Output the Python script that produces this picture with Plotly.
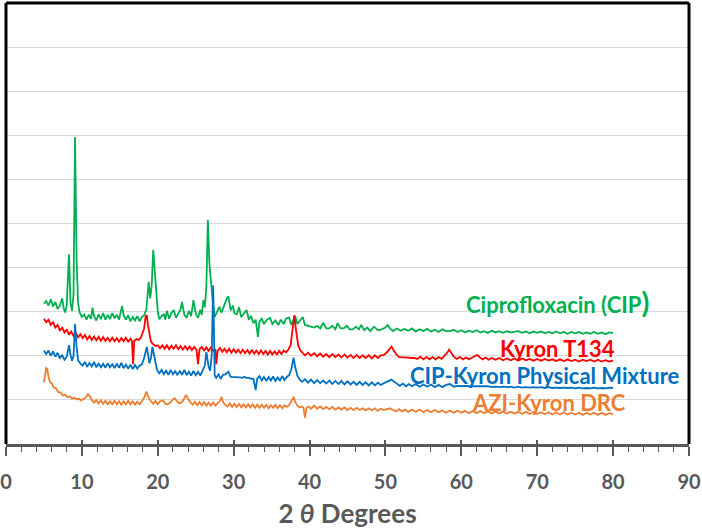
import plotly.graph_objects as go

# ---------------- data (2-theta in degrees, intensity in grid units, offset patterns) ----------------
cip_x = [5.0, 5.3, 5.6, 5.9, 6.2, 6.5, 6.8, 7.1, 7.4, 7.6, 7.8, 8.0, 8.3, 8.5, 8.7, 8.9, 9.1, 9.3, 9.5, 9.7,
         10.0, 10.3, 10.6, 10.9, 11.2, 11.4, 11.6, 11.9, 12.2, 12.5, 12.8, 13.1, 13.4, 13.7, 14.0, 14.3, 14.6, 14.9,
         15.1, 15.3, 15.5, 15.8, 16.1, 16.4, 16.7, 17.0, 17.3, 17.6, 17.9, 18.2, 18.5, 18.8, 19.0, 19.2, 19.4, 19.6,
         19.8, 20.0, 20.2, 20.5, 20.8, 21.0, 21.2, 21.5, 21.8, 22.1, 22.4, 22.7, 23.0, 23.2, 23.5, 23.8, 24.1, 24.4,
         24.7, 25.0, 25.3, 25.6, 25.8, 26.0, 26.2, 26.4, 26.6, 26.8, 27.0, 27.2, 27.5, 27.8, 28.1, 28.4, 28.6, 28.9,
         29.1, 29.3, 29.6, 29.9, 30.1, 30.4, 30.7, 31.0, 31.4, 31.7, 32.0, 32.3, 32.6, 32.9, 33.2, 33.4, 33.7, 34.0,
         34.4, 34.8, 35.1, 35.5, 35.9, 36.2, 36.6, 36.9, 37.3, 37.6, 37.9, 38.1, 38.4, 38.7, 39.1, 39.4, 39.8, 40.2,
         40.6, 41.0, 41.4, 41.8, 42.2, 42.6, 43.0, 43.4, 43.7, 44.1, 44.5, 44.9, 45.3, 45.7, 46.1, 46.5, 46.8, 47.2,
         47.6, 48.0, 48.5, 49.0, 49.5, 50.0, 50.3, 50.6, 51.0, 51.5, 52.0, 52.5, 53.0, 53.5, 54.0, 54.5, 55.0, 55.5,
         56.0, 56.5, 57.0, 57.5, 58.0, 58.5, 59.0, 59.5, 60.0, 60.5, 61.0, 61.5, 62.0, 62.5, 63.0, 63.5, 64.0, 64.5,
         65.0, 65.5, 66.0, 66.5, 67.0, 67.5, 68.0, 68.5, 69.0, 69.5, 70.0, 70.5, 71.0, 71.5, 72.0, 72.5, 73.0, 73.5,
         74.0, 74.5, 75.0, 75.5, 76.0, 76.5, 77.0, 77.5, 78.0, 78.5, 79.0, 79.5, 80.0]
cip_y = [3.18, 3.24, 3.14, 3.28, 3.12, 3.22, 3.06, 3.14, 3.30, 3.08, 2.98, 3.15, 4.30, 3.20, 3.02, 3.40, 6.96, 4.20, 3.20, 2.98,
         2.88, 2.94, 2.82, 2.93, 2.84, 3.09, 2.90, 2.80, 2.94, 2.83, 2.97, 2.82, 2.93, 2.83, 2.97, 2.85, 2.93, 2.82,
         2.98, 3.13, 2.92, 2.82, 2.92, 2.78, 2.88, 2.80, 2.90, 2.78, 2.88, 2.92, 3.05, 3.68, 3.30, 3.60, 4.40, 3.90,
         3.49, 3.00, 2.83, 2.90, 2.94, 2.82, 3.02, 2.84, 2.97, 3.04, 2.86, 2.94, 3.05, 3.22, 2.93, 2.86, 3.02, 2.90,
         3.26, 2.96, 2.86, 3.04, 2.93, 3.26, 3.10, 3.55, 5.08, 4.10, 3.64, 3.30, 2.88, 2.98, 3.11, 2.98, 3.08, 3.18,
         3.30, 3.35, 3.03, 3.14, 2.96, 2.94, 3.10, 2.88, 2.98, 3.04, 2.82, 2.90, 2.74, 2.82, 2.43, 2.78, 2.84, 2.72,
         2.82, 2.86, 2.72, 2.80, 2.70, 2.82, 2.72, 2.84, 2.87, 2.70, 2.82, 2.90, 2.72, 2.80, 2.88, 2.70, 2.68, 2.66,
         2.64, 2.68, 2.62, 2.75, 2.62, 2.62, 2.68, 2.60, 2.74, 2.62, 2.62, 2.68, 2.60, 2.60, 2.66, 2.60, 2.70, 2.58,
         2.64, 2.56, 2.66, 2.58, 2.60, 2.64, 2.70, 2.62, 2.56, 2.62, 2.57, 2.61, 2.57, 2.62, 2.55, 2.60, 2.56, 2.61,
         2.55, 2.59, 2.54, 2.60, 2.56, 2.56, 2.59, 2.54, 2.58, 2.53, 2.57, 2.54, 2.58, 2.53, 2.56, 2.52, 2.57, 2.53,
         2.56, 2.52, 2.56, 2.53, 2.54, 2.56, 2.52, 2.55, 2.51, 2.55, 2.52, 2.55, 2.51, 2.54, 2.51, 2.55, 2.51, 2.54,
         2.50, 2.54, 2.51, 2.54, 2.50, 2.53, 2.50, 2.54, 2.50, 2.53, 2.49, 2.53, 2.52]

kyron_x = [5.0, 5.3, 5.6, 5.9, 6.2, 6.5, 6.8, 7.1, 7.4, 7.7, 8.0, 8.3, 8.6, 8.9, 9.2, 9.5, 9.8, 10.1, 10.4, 10.7,
           11.0, 11.3, 11.6, 11.9, 12.2, 12.5, 12.8, 13.1, 13.4, 13.7, 14.0, 14.3, 14.6, 14.9, 15.2, 15.5, 15.8, 16.1,
           16.4, 16.6, 16.75, 16.9, 17.2, 17.5, 17.8, 18.0, 18.2, 18.4, 18.55, 18.7, 18.9, 19.1, 19.4, 19.7, 20.0,
           20.3, 20.6, 20.9, 21.2, 21.5, 21.8, 22.1, 22.4, 22.7, 23.0, 23.3, 23.6, 23.9, 24.2, 24.5, 24.8, 25.1, 25.3,
           25.5, 25.8, 26.1, 26.4, 26.7, 27.0, 27.3, 27.6, 27.7, 27.9, 28.2, 28.5, 28.8, 29.1, 29.4, 29.7, 30.0, 30.3,
           30.6, 30.9, 31.2, 31.5, 31.8, 32.1, 32.4, 32.7, 33.0, 33.3, 33.6, 33.9, 34.2, 34.5, 34.8, 35.1, 35.4, 35.7,
           36.0, 36.3, 36.6, 36.9, 37.2, 37.5, 37.75, 38.0, 38.2, 38.5, 38.8, 39.1, 39.4, 39.8, 40.2, 40.6, 41.0, 41.4,
           41.8, 42.2, 42.6, 43.0, 43.4, 43.8, 44.2, 44.6, 45.0, 45.4, 45.8, 46.2, 46.6, 47.0, 47.4, 47.8, 48.2, 48.6,
           49.0, 49.4, 49.8, 50.2, 50.5, 50.8, 51.1, 51.4, 51.8, 52.2, 52.6, 53.0, 53.4, 53.8, 54.2, 54.6, 55.0, 55.4,
           55.8, 56.2, 56.6, 57.0, 57.4, 57.8, 58.1, 58.4, 58.7, 59.0, 59.4, 59.8, 60.2, 60.6, 61.0, 61.4, 61.8, 62.1,
           62.4, 62.8, 63.2, 63.6, 64.0, 64.5, 65.0, 65.5, 66.0, 66.5, 67.0, 67.5, 68.0, 68.5, 69.0, 69.5, 70.0, 70.5,
           71.0, 71.5, 72.0, 72.5, 73.0, 73.5, 74.0, 74.5, 75.0, 75.5, 76.0, 76.5, 77.0, 77.5, 78.0, 78.5, 79.0, 79.5,
           80.0]
kyron_y = [2.84, 2.76, 2.82, 2.70, 2.76, 2.64, 2.70, 2.58, 2.64, 2.53, 2.60, 2.48, 2.55, 2.45, 2.52, 2.42, 2.49, 2.40, 2.47, 2.37,
           2.45, 2.36, 2.44, 2.35, 2.43, 2.34, 2.42, 2.34, 2.41, 2.33, 2.41, 2.33, 2.40, 2.32, 2.40, 2.33, 2.41, 2.32,
           2.39, 2.33, 1.81, 2.34, 2.38, 2.36, 2.42, 2.50, 2.62, 2.90, 2.92, 2.70, 2.47, 2.32, 2.26, 2.22, 2.24,
           2.17, 2.24, 2.16, 2.24, 2.15, 2.23, 2.16, 2.24, 2.15, 2.22, 2.14, 2.22, 2.14, 2.21, 2.13, 2.20, 2.14, 1.81,
           2.15, 2.20, 2.12, 2.19, 2.11, 2.19, 2.11, 2.15, 1.81, 2.12, 2.18, 2.09, 2.16, 2.08, 2.16, 2.07, 2.15, 2.07,
           2.14, 2.06, 2.14, 2.06, 2.13, 2.05, 2.13, 2.05, 2.12, 2.04, 2.12, 2.04, 2.11, 2.03, 2.11, 2.03, 2.10, 2.03,
           2.11, 2.04, 2.12, 2.08, 2.14, 2.24, 2.60, 2.92, 2.60, 2.24, 2.12, 2.06, 2.01, 2.07, 2.00, 2.06, 1.99, 2.05,
           1.98, 2.04, 1.97, 2.04, 1.97, 2.03, 1.96, 2.03, 1.96, 2.02, 1.95, 2.02, 1.95, 2.01, 1.95, 2.01, 1.94, 2.01,
           1.95, 2.01, 2.02, 2.08, 2.15, 2.21, 2.12, 2.04, 1.97, 1.97, 1.96, 1.96, 1.95, 1.95, 1.93, 1.98, 1.92, 1.97,
           1.92, 1.97, 1.92, 1.97, 1.93, 2.00, 2.06, 2.14, 2.06, 1.98, 1.93, 1.97, 1.92, 1.96, 1.92, 1.96, 1.99, 2.02,
           1.97, 1.92, 1.96, 1.91, 1.95, 1.91, 1.95, 1.90, 1.94, 1.90, 1.94, 1.89, 1.94, 1.90, 1.93, 1.89, 1.93, 1.89,
           1.93, 1.89, 1.92, 1.88, 1.92, 1.88, 1.92, 1.88, 1.91, 1.87, 1.91, 1.88, 1.91, 1.87, 1.91, 1.87, 1.90, 1.87,
           1.89]

mix_x = [5.0, 5.3, 5.6, 5.9, 6.2, 6.5, 6.8, 7.1, 7.4, 7.7, 8.0, 8.3, 8.5, 8.7, 8.9, 9.1, 9.3, 9.5, 9.8, 10.1,
         10.4, 10.7, 11.0, 11.3, 11.6, 11.9, 12.2, 12.5, 12.8, 13.1, 13.4, 13.7, 14.0, 14.3, 14.6, 14.9, 15.2, 15.5,
         15.8, 16.1, 16.4, 16.7, 17.0, 17.3, 17.6, 17.9, 18.2, 18.55, 18.9, 19.1, 19.3, 19.6, 19.9, 20.2, 20.5, 20.8,
         21.1, 21.4, 21.7, 22.0, 22.3, 22.6, 22.9, 23.2, 23.5, 23.8, 24.1, 24.4, 24.7, 25.0, 25.3, 25.6, 25.9, 26.2,
         26.4, 26.7, 26.9, 27.1, 27.3, 27.5, 27.7, 28.0, 28.3, 28.6, 28.9, 29.3, 29.6, 29.9, 30.2, 30.5, 30.8, 31.1,
         31.4, 31.7, 32.0, 32.3, 32.6, 32.9, 33.1, 33.4, 33.7, 34.0, 34.3, 34.6, 34.9, 35.2, 35.5, 35.8, 36.1, 36.4,
         36.7, 37.0, 37.3, 37.6, 37.9, 38.1, 38.4, 38.7, 39.0, 39.4, 39.8, 40.2, 40.6, 41.0, 41.4, 41.8, 42.2, 42.6,
         43.0, 43.4, 43.8, 44.2, 44.6, 45.0, 45.4, 45.8, 46.2, 46.6, 47.0, 47.4, 47.8, 48.2, 48.6, 49.0, 49.4, 49.8,
         50.2, 50.5, 50.8, 51.1, 51.5, 51.9, 52.3, 52.7, 53.1, 53.5, 54.0, 54.5, 55.0, 55.5, 56.0, 56.5, 57.0, 57.5,
         58.0, 58.5, 59.0, 59.5, 60.0, 60.5, 61.0, 61.5, 62.0, 62.5, 63.0, 63.5, 64.0, 64.5, 65.0, 65.5, 66.0, 66.5,
         67.0, 67.5, 68.0, 68.5, 69.0, 69.5, 70.0, 70.5, 71.0, 71.5, 72.0, 72.5, 73.0, 73.5, 74.0, 74.5, 75.0, 75.5,
         76.0, 76.5, 77.0, 77.5, 78.0, 78.5, 79.0, 79.5, 80.0]
mix_y = [2.12, 2.04, 2.12, 2.00, 2.10, 1.98, 2.07, 1.94, 2.02, 1.91, 1.98, 2.24, 2.02, 1.89, 2.00, 2.72, 2.20, 1.90, 1.83, 1.78,
         1.86, 1.75, 1.84, 1.76, 1.86, 1.74, 1.83, 1.74, 1.82, 1.73, 1.83, 1.74, 1.81, 1.72, 1.82, 1.73, 1.84, 1.72,
         1.80, 1.71, 1.80, 1.70, 1.79, 1.71, 1.78, 1.80, 1.95, 2.20, 1.83, 1.95, 2.20, 1.90, 1.68, 1.60, 1.68, 1.58,
         1.66, 1.57, 1.68, 1.58, 1.65, 1.56, 1.66, 1.57, 1.68, 1.56, 1.64, 1.55, 1.66, 1.56, 1.64, 1.55, 1.66, 1.78,
         2.09, 1.75, 1.66, 2.00, 3.60, 1.56, 1.50, 1.58, 1.48, 1.57, 1.58, 1.64, 1.52, 1.52, 1.52, 1.51, 1.51, 1.50,
         1.52, 1.50, 1.50, 1.48, 1.48, 1.22, 1.48, 1.54, 1.44, 1.52, 1.43, 1.52, 1.44, 1.53, 1.43, 1.51, 1.44, 1.54,
         1.45, 1.52, 1.56, 1.70, 1.96, 1.75, 1.55, 1.46, 1.41, 1.47, 1.39, 1.46, 1.38, 1.45, 1.38, 1.44, 1.37, 1.44,
         1.36, 1.43, 1.36, 1.43, 1.35, 1.42, 1.35, 1.41, 1.34, 1.41, 1.34, 1.40, 1.33, 1.40, 1.33, 1.39, 1.34, 1.38,
         1.41, 1.44, 1.46, 1.42, 1.37, 1.32, 1.37, 1.31, 1.36, 1.31, 1.36, 1.30, 1.35, 1.30, 1.35, 1.29, 1.34, 1.29,
         1.34, 1.36, 1.30, 1.32, 1.31, 1.32, 1.31, 1.31, 1.30, 1.31, 1.30, 1.31, 1.29, 1.30, 1.29, 1.30, 1.29, 1.30,
         1.28, 1.30, 1.28, 1.29, 1.28, 1.29, 1.28, 1.29, 1.27, 1.29, 1.27, 1.28, 1.27, 1.28, 1.27, 1.28, 1.26, 1.28,
         1.26, 1.27, 1.26, 1.28, 1.26, 1.27, 1.26, 1.28, 1.27]

drc_x = [5.0, 5.15, 5.3, 5.45, 5.6, 5.8, 6.05, 6.3, 6.6, 6.9, 7.2, 7.5, 7.8, 8.1, 8.4, 8.7, 9.0, 9.3, 9.6, 9.9,
         10.2, 10.5, 10.8, 11.0, 11.3, 11.6, 11.9, 12.2, 12.5, 12.8, 13.1, 13.4, 13.7, 14.0, 14.3, 14.6, 14.9, 15.2,
         15.5, 15.8, 16.1, 16.4, 16.7, 17.0, 17.3, 17.6, 17.9, 18.2, 18.5, 18.8, 19.1, 19.4, 19.7, 20.0, 20.3, 20.7,
         21.0, 21.3, 21.6, 21.9, 22.2, 22.5, 22.8, 23.1, 23.4, 23.7, 24.0, 24.3, 24.6, 24.9, 25.2, 25.5, 25.8, 26.1,
         26.4, 26.7, 27.0, 27.3, 27.6, 27.9, 28.2, 28.4, 28.6, 28.9, 29.2, 29.5, 29.8, 30.1, 30.4, 30.7, 31.0, 31.3,
         31.6, 31.9, 32.2, 32.5, 32.8, 33.1, 33.4, 33.7, 34.0, 34.3, 34.6, 34.9, 35.2, 35.5, 35.8, 36.1, 36.4, 36.7,
         37.0, 37.3, 37.6, 37.9, 38.1, 38.4, 38.7, 39.0, 39.2, 39.4, 39.6, 39.9, 40.2, 40.6, 41.0, 41.4, 41.8, 42.2,
         42.6, 43.0, 43.4, 43.8, 44.2, 44.6, 45.0, 45.4, 45.8, 46.2, 46.6, 47.0, 47.4, 47.8, 48.2, 48.6, 49.0, 49.4,
         49.8, 50.2, 50.6, 51.0, 51.4, 51.8, 52.2, 52.6, 53.0, 53.5, 54.0, 54.5, 55.0, 55.5, 56.0, 56.5, 57.0, 57.5,
         58.0, 58.5, 59.0, 59.5, 60.0, 60.5, 61.0, 61.5, 62.0, 62.5, 63.0, 63.5, 64.0, 64.5, 65.0, 65.5, 66.0, 66.5,
         67.0, 67.5, 68.0, 68.5, 69.0, 69.5, 70.0, 70.5, 71.0, 71.5, 72.0, 72.5, 73.0, 73.5, 74.0, 74.5, 75.0, 75.5,
         76.0, 76.5, 77.0, 77.5, 78.0, 78.5, 79.0, 79.5, 80.0]
drc_y = [1.40, 1.55, 1.72, 1.70, 1.52, 1.40, 1.37, 1.28, 1.26, 1.17, 1.17, 1.10, 1.12, 1.06, 1.08, 1.03, 1.05, 1.01, 1.03, 0.99,
         1.02, 1.05, 1.13, 1.10, 1.00, 0.94, 1.00, 0.92, 0.99, 0.91, 0.98, 0.90, 0.97, 0.90, 0.98, 0.90, 0.97, 0.89,
         0.97, 0.90, 0.98, 0.90, 0.97, 0.89, 0.96, 0.90, 0.97, 1.05, 1.19, 1.05, 0.97, 0.91, 0.98, 0.90, 0.97, 0.99,
         0.91, 0.90, 0.94, 0.98, 1.04, 0.98, 0.92, 0.94, 1.00, 1.11, 1.02, 0.94, 0.89, 0.96, 0.88, 0.95, 0.88, 0.95,
         0.87, 0.94, 0.87, 0.94, 0.87, 0.93, 0.98, 1.07, 0.95, 0.89, 0.85, 0.92, 0.84, 0.91, 0.84, 0.91, 0.83, 0.90,
         0.83, 0.90, 0.83, 0.90, 0.82, 0.89, 0.82, 0.89, 0.82, 0.89, 0.81, 0.88, 0.82, 0.89, 0.81, 0.88, 0.81, 0.88,
         0.84, 0.88, 0.96, 1.07, 0.96, 0.87, 0.83, 0.85, 0.82, 0.60, 0.82, 0.85, 0.80, 0.87, 0.80, 0.85, 0.79, 0.84,
         0.79, 0.84, 0.78, 0.83, 0.78, 0.83, 0.77, 0.82, 0.77, 0.82, 0.77, 0.81, 0.76, 0.81, 0.76, 0.81, 0.75, 0.80,
         0.77, 0.79, 0.81, 0.77, 0.74, 0.79, 0.74, 0.78, 0.73, 0.78, 0.73, 0.78, 0.72, 0.77, 0.72, 0.77, 0.72, 0.76,
         0.71, 0.76, 0.71, 0.76, 0.71, 0.75, 0.70, 0.75, 0.70, 0.75, 0.70, 0.74, 0.69, 0.74, 0.69, 0.74, 0.69, 0.73,
         0.69, 0.73, 0.68, 0.73, 0.68, 0.73, 0.68, 0.72, 0.68, 0.72, 0.67, 0.72, 0.67, 0.72, 0.67, 0.71, 0.67, 0.71,
         0.66, 0.71, 0.67, 0.71, 0.66, 0.71, 0.66, 0.70, 0.68]

series_names = ["Ciprofloxacin (CIP)", "Kyron T134", "CIP-Kyron Physical Mixture", "AZI-Kyron DRC"]
series_colors = ["#00B050", "#FF0000", "#0070C0", "#ED7D31"]
x_tick_vals = [0, 10, 20, 30, 40, 50, 60, 70, 80, 90]
x_title = "2 <i>θ</i> Degrees"

# ---------------- figure ----------------
fig = go.Figure()
for xs, ys, name, col in zip([cip_x, kyron_x, mix_x, drc_x], [cip_y, kyron_y, mix_y, drc_y],
                             series_names, series_colors):
    fig.add_trace(go.Scatter(x=xs, y=ys, mode="lines", name=name,
                             line=dict(color=col, width=1.8), showlegend=False,
                             hoverinfo="skip"))

label_font = "Lato, 'Open Sans', sans-serif"
labels = [
    ("Ciprofloxacin (CIP<span style='font-size:29px'>)</span>", 85.0, 3.24, series_colors[0]),
    ("Kyron T134", 80.5, 2.16, series_colors[1]),
    ("CIP-Kyron Physical Mixture", 89.1, 1.55, series_colors[2]),
    ("AZI-Kyron DRC", 81.9, 0.94, series_colors[3]),
]
for txt, ax, ay, col in labels:
    fig.add_annotation(x=ax, y=ay, text="<b>" + txt + "</b>", showarrow=False,
                       xanchor="right", yanchor="middle",
                       font=dict(family=label_font, size=22, color=col))

fig.update_layout(
    width=702, height=531,
    margin=dict(l=6, r=13, t=3, b=87, autoexpand=False),
    paper_bgcolor="white", plot_bgcolor="white",
    font=dict(family=label_font, color="#595959"),
    xaxis=dict(range=[0, 90], tickvals=x_tick_vals, ticks="outside", ticklen=9,
               tickwidth=1.5, tickcolor="#595959", automargin=False, ticklabelstandoff=9,
               minor=dict(dtick=2, ticks="outside", ticklen=5, tickwidth=1.2, tickcolor="#595959"),
               showline=True, linecolor="#595959", linewidth=2.5,
               showgrid=False, zeroline=False,
               tickfont=dict(family=label_font, size=20, color="#595959", weight="bold"),
               title=dict(text="<b>" + x_title + "</b>", standoff=14,
                          font=dict(family=label_font, size=26, color="#595959"))),
    xaxis2=dict(range=[0, 90], overlaying="x", matches="x", tickvals=x_tick_vals, ticks="inside",
                ticklen=4, tickwidth=1.5, tickcolor="#595959", showticklabels=False,
                showgrid=False, zeroline=False, side="bottom", anchor="y", automargin=False),
    yaxis=dict(range=[0, 10], dtick=1, showticklabels=False, ticks="", automargin=False,
               showgrid=True, gridcolor="#D9D9D9", gridwidth=1, zeroline=False, showline=False),
)
# dummy trace to show xaxis2
fig.add_trace(go.Scatter(x=[None], y=[None], xaxis="x2", showlegend=False, hoverinfo="skip"))

# plot-area border (left, top, right in black)
for x0, y0, x1, y1 in [(0, 0, 0, 1), (0, 1, 1, 1), (1, 1, 1, 0)]:
    fig.add_shape(type="line", xref="paper", yref="paper", x0=x0, y0=y0, x1=x1, y1=y1,
                  line=dict(color="black", width=3))

fig.write_html("out.html", config={"displayModeBar": False},
               post_script="document.body.style.margin='0';document.body.style.overflow='hidden';")
